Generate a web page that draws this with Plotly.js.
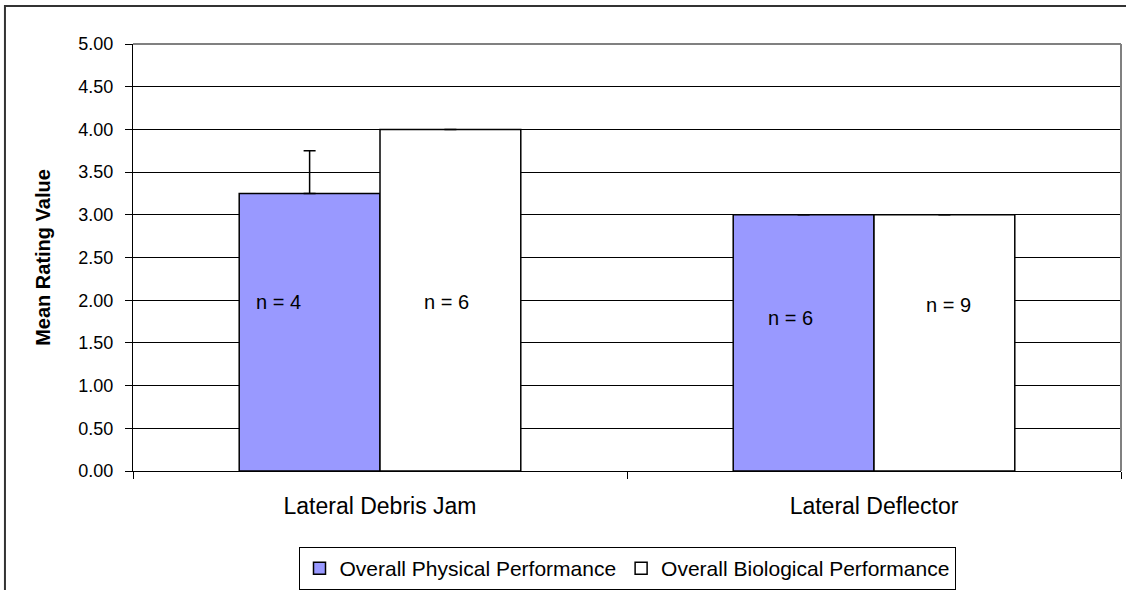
<!DOCTYPE html>
<html>
<head>
<meta charset="utf-8">
<script src="https://cdn.plot.ly/plotly-3.0.1.min.js"></script>
<style>
  html, body { margin: 0; padding: 0; background: #fff; }
  #chart { width: 1126px; height: 590px; }
</style>
</head>
<body>
<div id="chart"></div>
<script>
// ---- data ----
const categories = ['Lateral Debris Jam', 'Lateral Deflector'];
const physicalMeans = [3.25, 3.00];
const physicalErrPlus = [0.50, 0.00];
const biologicalMeans = [4.00, 3.00];
const biologicalErrPlus = [0.00, 0.00];
const physicalN = [4, 6];
const biologicalN = [6, 9];
const seriesNames = ['Overall Physical Performance', 'Overall Biological Performance'];
const yTickVals = [0, 0.5, 1, 1.5, 2, 2.5, 3, 3.5, 4, 4.5, 5];

const font = 'Liberation Sans, Arial, sans-serif';

const traces = [
  {
    type: 'bar', name: seriesNames[0], x: categories, y: physicalMeans,
    marker: { color: '#9999FF', line: { color: '#000', width: 1.5 } },
    error_y: { type: 'data', symmetric: false, array: physicalErrPlus,
               arrayminus: physicalErrPlus.map(() => 0),
               color: '#000', thickness: 1.5, width: 6 },
    hoverinfo: 'skip'
  },
  {
    type: 'bar', name: seriesNames[1], x: categories, y: biologicalMeans,
    marker: { color: '#FFFFFF', line: { color: '#000', width: 1.5 } },
    error_y: { type: 'data', symmetric: false, array: biologicalErrPlus,
               arrayminus: biologicalErrPlus.map(() => 0),
               color: '#000', thickness: 1.5, width: 6 },
    hoverinfo: 'skip'
  }
];

// label placement (x offset in category units, y in data units)
const physLabelPos = [[-0.206, 1.98], [-0.170, 1.79]];
const bioLabelPos = [[0.134, 1.98], [0.150, 1.94]];
const annotations = [];
categories.forEach((c, i) => {
  annotations.push({ x: i + physLabelPos[i][0], y: physLabelPos[i][1], xref: 'x', yref: 'y',
    text: 'n = ' + physicalN[i], showarrow: false, font: { family: font, size: 20, color: '#000' } });
  annotations.push({ x: i + bioLabelPos[i][0], y: bioLabelPos[i][1], xref: 'x', yref: 'y',
    text: 'n = ' + biologicalN[i], showarrow: false, font: { family: font, size: 20, color: '#000' } });
});

const layout = {
  width: 1126, height: 590,
  margin: { l: 133, r: 5, t: 44, b: 119, pad: 0, autoexpand: false },
  paper_bgcolor: '#fff', plot_bgcolor: '#fff',
  font: { family: font, size: 18, color: '#000' },
  showlegend: true,
  barmode: 'group', bargap: 0.43, bargroupgap: 0,
  xaxis: {
    type: 'category', showline: true, linecolor: '#000', linewidth: 1,
    ticks: 'outside', tickson: 'boundaries', ticklen: 7, tickcolor: '#000',
    showgrid: false, zeroline: false,
    tickfont: { family: font, size: 23, color: '#000' },
    ticklabelstandoff: 14
  },
  yaxis: {
    range: [0, 5], tickvals: yTickVals, tickformat: '.2f',
    showline: true, linecolor: '#000', linewidth: 1,
    ticks: 'outside', ticklen: 7, tickcolor: '#000',
    showgrid: true, gridcolor: '#000', gridwidth: 1, zeroline: false,
    tickfont: { family: font, size: 18, color: '#000' },
    ticklabelstandoff: 8,
    title: { text: 'Mean Rating Value', standoff: 22,
             font: { family: font, size: 20, color: '#000', weight: 'bold' } }
  },
  legend: {
    orientation: 'h', x: 0.5, xanchor: 'center', y: -0.178, yanchor: 'top',
    bordercolor: '#000', borderwidth: 1, bgcolor: '#fff',
    font: { family: font, size: 21, color: '#000' },
    itemwidth: 30, tracegroupgap: 0
  },
  annotations: annotations,
  shapes: [
    // plot area border top/right (gray)
    { type: 'line', xref: 'paper', yref: 'paper', x0: 0, x1: 1, y0: 1, y1: 1,
      line: { color: '#808080', width: 2 }, layer: 'above' },
    { type: 'line', xref: 'paper', yref: 'paper', x0: 1, x1: 1, y0: 0, y1: 1,
      line: { color: '#808080', width: 2 }, layer: 'above' },
    // outer chart frame
    { type: 'rect', xref: 'paper', yref: 'paper', x0: -0.1296, x1: 1.01, y0: -0.30, y1: 1.089,
      line: { color: '#333', width: 2 }, layer: 'above' }
  ]
};

Plotly.newPlot('chart', traces, layout, { displayModeBar: false, staticPlot: true });
</script>
</body>
</html>
